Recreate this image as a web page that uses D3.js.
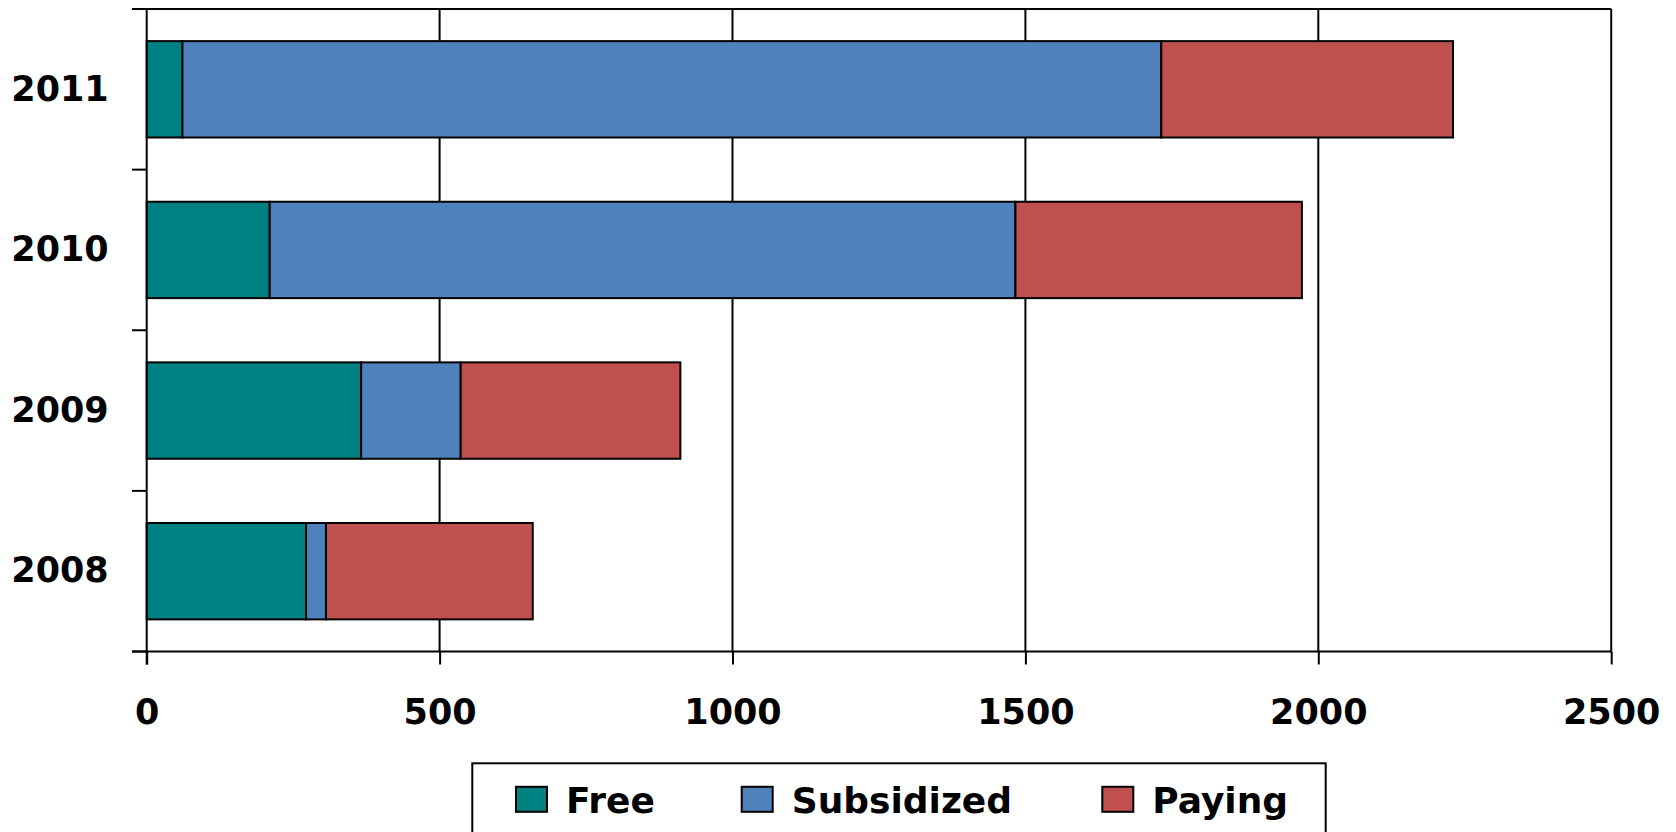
<!DOCTYPE html>
<html>
<head>
    <title>Stacked bars by year</title>
    <script src="https://d3js.org/d3.v7.min.js"></script>
</head>
<style>
    body {
        margin: 0;
        background: #fff;
    }

    text {
        font-family: "DejaVu Sans", sans-serif;
        font-weight: bold;
        fill: #000;
    }
</style>
<body>
    <svg class='chart'></svg>
</body>
<script>
    // data
    var years = ["2011", "2010", "2009", "2008"]
    var seriesNames = ["Free", "Subsidized", "Paying"]
    var free = [61, 210, 366, 272]
    var subsidized = [1671, 1273, 170, 34]
    var paying = [498, 489, 375, 353]
    var xTicks = [0, 500, 1000, 1500, 2000, 2500]
    var colors = ["#008080", "#4F81BD", "#C0504D"]

    var W = 1676, H = 832
    var margin = { top: 9, left: 146.7 }
    var width = 1464.5
    var height = 642.5

    var svg = d3.select('.chart')
        .attr('width', W)
        .attr('height', H)

    var chart = svg.append('g')
        .attr('transform', 'translate(' + margin.left + ',' + margin.top + ')')

    // build rows for d3.stack
    var rows = years.map(function (y, i) {
        return { year: y, Free: free[i], Subsidized: subsidized[i], Paying: paying[i] }
    })
    var stacked = d3.stack().keys(seriesNames)(rows)

    var x = d3.scaleLinear().domain([0, 2500]).range([0, width])
    var y = d3.scaleBand().domain(years).range([0, height])
        .paddingInner(0.4).paddingOuter(0.2)

    // vertical gridlines
    chart.append('g')
        .selectAll('line')
        .data(xTicks.slice(1))
        .enter().append('line')
        .attr('x1', d => x(d)).attr('x2', d => x(d))
        .attr('y1', 0).attr('y2', height)
        .attr('stroke', '#000').attr('stroke-width', 2)

    // top border
    chart.append('line')
        .attr('x1', -14.7).attr('x2', width)
        .attr('y1', 0).attr('y2', 0)
        .attr('stroke', '#000').attr('stroke-width', 2)

    // bars
    chart.append('g')
        .selectAll('g')
        .data(stacked)
        .enter().append('g')
        .attr('fill', (d, i) => colors[i])
        .selectAll('rect')
        .data(d => d)
        .enter().append('rect')
        .attr('x', d => x(d[0]))
        .attr('width', d => x(d[1]) - x(d[0]))
        .attr('y', d => y(d.data.year))
        .attr('height', y.bandwidth())
        .attr('stroke', '#000')
        .attr('stroke-width', 2)

    // x axis
    var xAxis = d3.axisBottom(x).tickValues(xTicks).tickFormat(d3.format('d'))
        .tickSize(13).tickPadding(35)
    var gx = chart.append('g')
        .attr('transform', 'translate(0,' + height + ')')
        .call(xAxis)
    gx.select('.domain').remove()
    gx.selectAll('line').attr('stroke', '#000').attr('stroke-width', 2)
    gx.selectAll('text').style('font-size', '35px').attr('fill', '#000')
    gx.append('line')
        .attr('x1', -14.7).attr('x2', width)
        .attr('stroke', '#000').attr('stroke-width', 2)

    // y axis: labels at band centres, ticks at band boundaries
    var yAxis = d3.axisLeft(y).tickSize(0).tickPadding(38)
    var gy = chart.append('g').call(yAxis)
    gy.select('.domain').remove()
    gy.selectAll('text').style('font-size', '35px').attr('fill', '#000')

    var step = y.step()
    var bounds = d3.range(years.length + 1).map(i => y.range()[0] + i * step)
    chart.append('g')
        .selectAll('line')
        .data(bounds)
        .enter().append('line')
        .attr('x1', -14.7).attr('x2', 0)
        .attr('y1', d => d).attr('y2', d => d)
        .attr('stroke', '#000').attr('stroke-width', 2)
    chart.append('line')
        .attr('x1', 0).attr('x2', 0)
        .attr('y1', 0).attr('y2', height + 13)
        .attr('stroke', '#000').attr('stroke-width', 2)

    // legend (box runs off the bottom edge like the original)
    var legend = svg.append('g').attr('transform', 'translate(472.3,763.3)')
    legend.append('rect')
        .attr('width', 853.4).attr('height', 120)
        .attr('fill', '#fff').attr('stroke', '#000').attr('stroke-width', 2)

    var itemX = [43.7, 269.4, 630]
    seriesNames.forEach(function (name, i) {
        var it = legend.append('g').attr('transform', 'translate(' + itemX[i] + ',0)')
        it.append('rect')
            .attr('x', 0).attr('y', 23.5)
            .attr('width', 31).attr('height', 25)
            .attr('fill', colors[i]).attr('stroke', '#000').attr('stroke-width', 2)
        it.append('text')
            .attr('x', 50).attr('y', 50)
            .style('font-size', '36px')
            .text(name)
    })
</script>
</html>
